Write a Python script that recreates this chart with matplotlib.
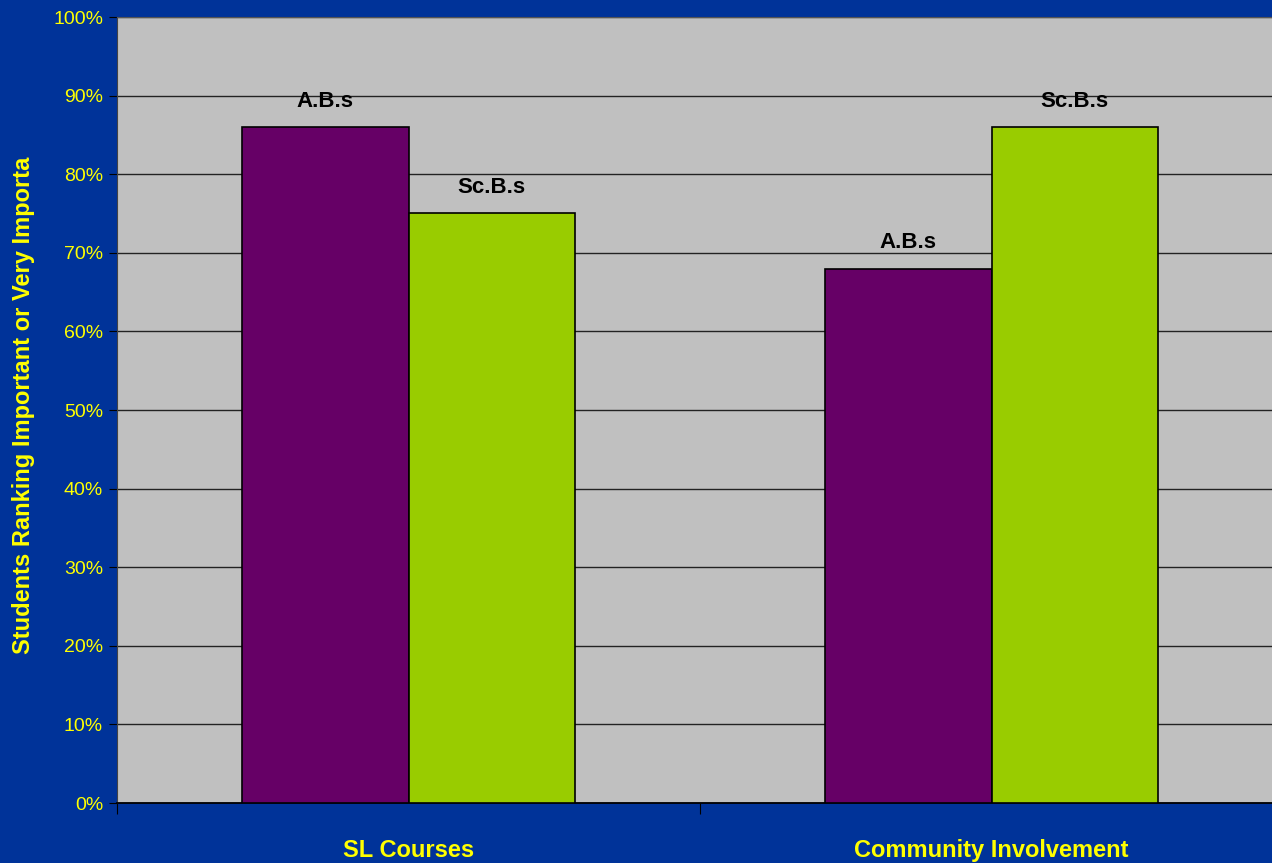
import numpy as np
import matplotlib.pyplot as plt
from matplotlib.ticker import PercentFormatter

categories = ['SL Courses', 'Community Involvement']
series_names = ['A.B.s', 'Sc.B.s']
ab_values = [86, 68]
scb_values = [75, 86]
bar_colors = ['#660066', '#99CC00']

plt.rcParams['font.family'] = ['Liberation Sans', 'DejaVu Sans']

fig = plt.figure(figsize=(12.72, 8.63), dpi=100)
fig.patch.set_facecolor('#003399')
# plot area runs a little past the right edge, like the original slide
ax = fig.add_axes([117 / 1272, 60 / 863, 1166 / 1272, 786 / 863])
ax.set_facecolor('#C0C0C0')

x = np.arange(len(categories))
w = 0.285
for i, (vals, name) in enumerate(zip([ab_values, scb_values], series_names)):
    pos = x + (i - 0.5) * w
    bars = ax.bar(pos, vals, w, color=bar_colors[i], edgecolor='black',
                  linewidth=1.2, zorder=3)
    for b in bars:
        ax.annotate(name, (b.get_x() + b.get_width() / 2, b.get_height()),
                    xytext=(0, 11), textcoords='offset points',
                    ha='center', va='bottom', fontsize=16,
                    fontweight='bold', color='black')

ax.set_xlim(-0.5, 1.5)
ax.set_ylim(0, 100)
ax.set_yticks(np.arange(0, 101, 10))
ax.yaxis.set_major_formatter(PercentFormatter(decimals=0))
ax.grid(axis='y', color='#222222', linewidth=1.0, zorder=1)
ax.tick_params(axis='y', colors='black', labelcolor='#FFFF00',
               labelsize=14, length=6, direction='out', pad=4)

ax.set_xticks([-0.5, 0.5, 1.5])
ax.set_xticklabels([])
ax.set_xticks(x, minor=True)
ax.set_xticklabels(categories, minor=True)
ax.tick_params(axis='x', which='major', length=8, colors='black')
ax.tick_params(axis='x', which='minor', length=0, labelcolor='#FFFF00',
               labelsize=17, pad=34)
for lab in ax.get_xticklabels(minor=True):
    lab.set_fontweight('bold')
    lab.set_verticalalignment('center')

ax.spines['left'].set_color('#444444')
ax.spines['top'].set_color('#555555')
ax.spines['right'].set_visible(False)
ax.spines['bottom'].set_color('black')
ax.spines['bottom'].set_linewidth(1.3)

fig.text(24 / 1272, 1 - 405 / 863, 'Students Ranking Important or Very Importa',
         rotation=90, ha='center', va='center', color='#FFFF00',
         fontsize=17, fontweight='bold')

fig.savefig('out.png', dpi=100, facecolor=fig.get_facecolor())
